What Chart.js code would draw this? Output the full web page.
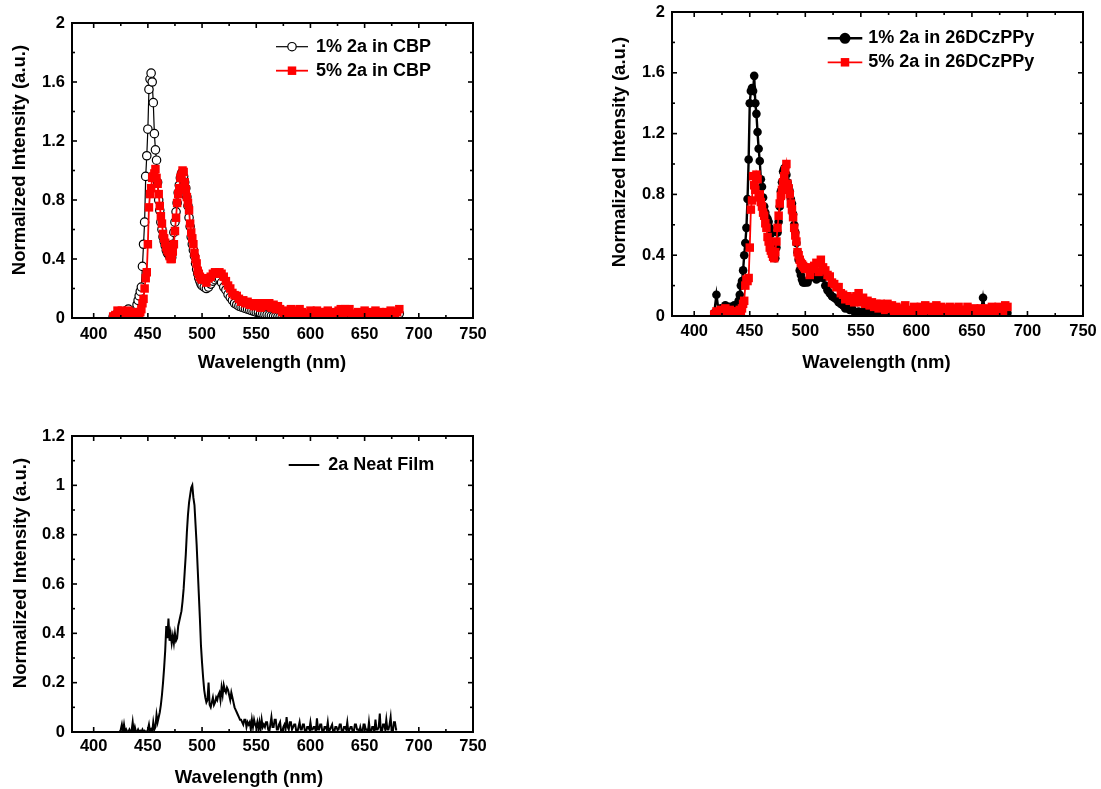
<!DOCTYPE html>
<html>
<head>
<meta charset="utf-8">
<script src="https://cdn.jsdelivr.net/npm/chart.js@4.4.1/dist/chart.umd.min.js"></script>
<style>
  html, body { margin: 0; padding: 0; background: #fff; }
  body { width: 1101px; height: 789px; position: relative; overflow: hidden; }
  canvas { position: absolute; }
</style>
</head>
<body>
<canvas id="cbp" width="500" height="390" style="left:0;top:0"></canvas>
<canvas id="dcz" width="501" height="390" style="left:600px;top:0"></canvas>
<canvas id="neat" width="500" height="389" style="left:0;top:400px"></canvas>
<script>
// Emission wavelengths (nm) for the doped-film spectra
const WAVELENGTH = [418,420,422,424,426,428,430,432,434,436,438,440,
  441,442,443,444,445,446,447,448,449,450,
  451,452,453,454,455,456,457,458,459,460,
  461,462,463,464,465,466,467,468,469,470,
  471,472,473,474,475,476,477,478,479,480,
  481,482,483,484,485,486,487,488,489,490,
  491,492,493,494,495,496,497,498,499,500,
  502,504,506,508,510,512,514,516,518,520,
  522,524,526,528,530,532,534,536,538,540,
  542,544,546,548,550,552,554,556,558,560,
  562,564,566,568,570,572,574,576,578,580,
  582,584,586,588,590,592,594,596,598,600,
  602,604,606,608,610,612,614,616,618,620,
  622,624,626,628,630,632,634,636,638,640,
  642,644,646,648,650,652,654,656,658,660,
  662,664,666,668,670,672,674,676,678,680,
  682];

// 1% 2a in CBP
const CBP_1 = [0.01,0.02,0.03,0.04,0.03,0.04,0.05,0.06,0.04,0.03,0.05,0.09,
  0.12,0.15,0.18,0.21,0.35,0.50,0.65,0.96,1.10,1.28,
  1.55,1.62,1.66,1.60,1.46,1.25,1.14,1.07,0.92,0.80,
  0.73,0.65,0.60,0.55,0.52,0.49,0.46,0.44,0.43,0.42,
  0.41,0.41,0.50,0.58,0.65,0.72,0.78,0.85,0.90,0.95,
  0.98,0.99,0.96,0.92,0.88,0.82,0.76,0.68,0.62,0.55,
  0.50,0.46,0.42,0.37,0.33,0.30,0.27,0.25,0.23,0.22,
  0.21,0.20,0.21,0.23,0.25,0.26,0.27,0.27,0.24,0.21,
  0.19,0.16,0.14,0.12,0.10,0.09,0.08,0.075,0.07,0.065,
  0.06,0.055,0.05,0.045,0.04,0.038,0.034,0.03,0.026,0.022,
  0.018,0.015,0.012,0.01,0.008,0.006,0.005,0.004,0.006,0.003,
  0.008,0.005,0.004,0.007,0.003,0.006,0.004,0.008,0.005,0.003,
  0.006,0.004,0.009,0.005,0.003,0.007,0.004,0.006,0.008,0.004,
  0.005,0.003,0.007,0.01,0.006,0.004,0.008,0.005,0.003,0.006,
  0.004,0.007,0.005,0.003,0.006,0.009,0.004,0.006,0.003,0.007,
  0.005,0.008,0.004,0.006,0.01,0.005,0.007,0.012,0.009,0.015,
  0.03];

// 5% 2a in CBP
const CBP_5 = [0.01,0.02,0.05,0.03,0.05,0.02,0.04,0.05,0.02,0.04,0.03,0.01,
  0.03,0.01,0.04,0.06,0.10,0.13,0.20,0.27,0.31,0.50,
  0.75,0.84,0.88,0.95,0.96,0.98,1.01,0.95,0.91,0.84,
  0.76,0.69,0.64,0.57,0.54,0.51,0.48,0.46,0.45,0.42,
  0.40,0.40,0.45,0.50,0.59,0.68,0.78,0.84,0.88,0.95,
  0.97,1.00,0.99,0.92,0.87,0.82,0.78,0.73,0.64,0.58,
  0.54,0.50,0.44,0.40,0.37,0.32,0.30,0.28,0.27,0.26,
  0.26,0.24,0.27,0.28,0.30,0.31,0.30,0.31,0.30,0.28,
  0.25,0.22,0.20,0.17,0.155,0.15,0.13,0.11,0.12,0.10,
  0.11,0.09,0.10,0.08,0.10,0.09,0.07,0.10,0.08,0.09,
  0.10,0.07,0.09,0.06,0.08,0.06,0.04,0.02,0.05,0.03,
  0.06,0.02,0.05,0.03,0.06,0.04,0.02,0.01,0.03,0.05,
  0.01,0.03,0.05,0.02,0.04,0.01,0.04,0.05,0.02,0.04,
  0.01,0.03,0.05,0.06,0.03,0.06,0.04,0.06,0.03,0.02,
  0.01,0.04,0.02,0.03,0.05,0.02,0.04,0.01,0.03,0.05,
  0.01,0.04,0.02,0.01,0.04,0.02,0.05,0.01,0.03,0.04,
  0.06];

// 1% 2a in 26DCzPPy
const DCZ_1 = [0.02,0.14,0.03,0.05,0.04,0.07,0.03,0.06,0.02,0.07,0.04,0.10,
  0.14,0.20,0.23,0.30,0.40,0.48,0.58,0.77,1.03,1.40,
  1.48,1.50,1.48,1.58,1.40,1.33,1.21,1.10,1.02,0.90,
  0.85,0.78,0.72,0.68,0.65,0.64,0.62,0.58,0.54,0.47,
  0.41,0.39,0.38,0.45,0.55,0.62,0.72,0.82,0.88,0.95,
  0.97,0.98,0.93,0.88,0.85,0.82,0.77,0.74,0.67,0.60,
  0.55,0.48,0.42,0.37,0.30,0.27,0.24,0.22,0.22,0.22,
  0.22,0.25,0.27,0.28,0.24,0.25,0.27,0.25,0.20,0.17,
  0.15,0.13,0.12,0.11,0.09,0.08,0.07,0.05,0.06,0.04,
  0.05,0.03,0.02,0.03,0.02,0.03,0.01,0.02,0.03,0.01,
  0.02,0.01,0.03,0.02,0.01,0.02,0.03,0.01,0.02,0.01,
  0.02,0.03,0.01,0.02,0.01,0.03,0.02,0.01,0.02,0.03,
  0.01,0.02,0.03,0.01,0.02,0.01,0.03,0.02,0.01,0.02,
  0.03,0.01,0.02,0.01,0.03,0.02,0.01,0.02,0.03,0.01,
  0.02,0.01,0.03,0.02,0.01,0.02,0.03,0.01,0.02,0.12,
  0.02,0.01,0.03,0.02,0.03,0.05,0.02,0.01,0.02,0.03,
  0.02];

// 5% 2a in 26DCzPPy
const DCZ_5 = [0.01,0.03,0.02,0.04,0.03,0.05,0.02,0.04,0.03,0.02,0.03,0.02,
  0.04,0.03,0.05,0.08,0.10,0.20,0.24,0.23,0.25,0.45,
  0.70,0.76,0.92,0.86,0.83,0.93,0.90,0.78,0.80,0.75,
  0.72,0.68,0.66,0.61,0.58,0.52,0.49,0.45,0.43,0.41,
  0.39,0.38,0.42,0.49,0.58,0.66,0.74,0.79,0.83,0.88,
  0.92,0.96,1.00,0.87,0.84,0.80,0.74,0.70,0.65,0.58,
  0.53,0.49,0.42,0.40,0.37,0.35,0.34,0.33,0.32,0.31,
  0.32,0.27,0.31,0.33,0.35,0.29,0.37,0.32,0.30,0.27,
  0.26,0.22,0.21,0.19,0.19,0.15,0.14,0.11,0.13,0.10,
  0.12,0.09,0.13,0.15,0.09,0.12,0.08,0.10,0.07,0.09,
  0.06,0.08,0.05,0.08,0.06,0.04,0.08,0.05,0.07,0.03,
  0.06,0.02,0.05,0.02,0.07,0.04,0.02,0.03,0.06,0.02,
  0.03,0.06,0.02,0.07,0.04,0.06,0.02,0.05,0.07,0.02,
  0.06,0.02,0.05,0.03,0.06,0.02,0.05,0.02,0.06,0.04,
  0.02,0.04,0.06,0.02,0.04,0.05,0.02,0.04,0.05,0.02,
  0.05,0.02,0.04,0.06,0.02,0.04,0.06,0.02,0.02,0.07,
  0.06];

// Neat-film wavelengths (nm), measured every 1 nm
const NEAT_WAVELENGTH = [424,425,426,427,428,429,
  430,431,432,433,434,435,436,437,438,439,
  440,441,442,443,444,445,446,447,448,449,
  450,451,452,453,454,455,456,457,458,459,
  460,461,462,463,464,465,466,467,468,469,
  470,471,472,473,474,475,476,477,478,479,
  480,481,482,483,484,485,486,487,488,489,
  490,491,492,493,494,495,496,497,498,499,
  500,501,502,503,504,505,506,507,508,509,
  510,511,512,513,514,515,516,517,518,519,
  520,521,522,523,524,525,526,527,528,529,
  530,531,532,533,534,535,536,537,538,539,
  540,541,542,543,544,545,546,547,548,549,
  550,551,552,553,554,555,556,557,558,559,
  560,561,562,563,564,565,566,567,568,569,
  570,571,572,573,574,575,576,577,578,579,
  580,581,582,583,584,585,586,587,588,589,
  590,591,592,593,594,595,596,597,598,599,
  600,601,602,603,604,605,606,607,608,609,
  610,611,612,613,614,615,616,617,618,619,
  620,621,622,623,624,625,626,627,628,629,
  630,631,632,633,634,635,636,637,638,639,
  640,641,642,643,644,645,646,647,648,649,
  650,651,652,653,654,655,656,657,658,659,
  660,661,662,663,664,665,666,667,668,669,
  670,671,672,673,674,675,676,677,678,679,
  680];

// 2a neat film
const NEAT = [0.0,0.01,0.03,0.0,0.03,0.0,
  0.01,0.0,0.0,0.01,0.0,0.005,0.04,0.0,0.02,0.0,
  0.0,0.01,0.0,0.005,0.0,0.01,0.0,0.005,0.0,0.0,
  0.01,0.03,0.0,0.01,0.0,0.04,0.01,0.02,0.07,0.04,
  0.06,0.08,0.11,0.15,0.20,0.26,0.33,0.43,0.38,0.46,
  0.37,0.40,0.36,0.39,0.36,0.40,0.37,0.38,0.43,0.45,
  0.47,0.49,0.53,0.58,0.65,0.72,0.81,0.88,0.93,0.96,
  0.99,1.00,0.95,0.92,0.84,0.76,0.66,0.56,0.46,0.35,
  0.28,0.22,0.17,0.14,0.12,0.13,0.20,0.11,0.10,0.12,
  0.14,0.11,0.12,0.14,0.13,0.15,0.16,0.13,0.18,0.15,
  0.19,0.17,0.16,0.18,0.17,0.15,0.13,0.16,0.14,0.12,
  0.10,0.09,0.08,0.07,0.06,0.05,0.05,0.04,0.03,0.05,
  0.05,0.02,0.04,0.03,0.04,0.01,0.05,0.02,0.05,0.03,
  0.02,0.04,0.01,0.04,0.01,0.05,0.02,0.03,0.02,0.04,
  0.04,0.01,0.0,0.03,0.06,0.02,0.02,0.05,0.05,0.01,
  0.01,0.03,0.04,0.0,0.0,0.02,0.03,0.01,0.06,0.02,
  0.01,0.04,0.04,0.01,0.02,0.03,0.03,0.0,0.0,0.02,
  0.04,0.01,0.01,0.03,0.03,0.0,0.0,0.02,0.02,0.01,
  0.04,0.01,0.01,0.02,0.02,0.0,0.055,0.01,0.01,0.03,
  0.03,0.0,0.0,0.02,0.02,0.01,0.04,0.0,0.01,0.02,
  0.03,0.0,0.0,0.02,0.02,0.01,0.01,0.03,0.03,0.0,
  0.0,0.02,0.02,0.01,0.04,0.0,0.01,0.02,0.02,0.0,
  0.0,0.03,0.03,0.01,0.01,0.0,0.02,0.0,0.0,0.03,
  0.03,0.01,0.01,0.0,0.04,0.0,0.0,0.02,0.02,0.0,
  0.05,0.01,0.01,0.02,0.075,0.0,0.0,0.03,0.03,0.01,
  0.05,0.01,0.01,0.03,0.06,0.0,0.0,0.04,0.04,0.01,
  0.01];

// Axis ticks and their labels
const X_TICKS = [400, 450, 500, 550, 600, 650, 700, 750];
const X_TICK_LABELS = ['400', '450', '500', '550', '600', '650', '700', '750'];
const Y_TICKS_DOPED = [0, 0.4, 0.8, 1.2, 1.6, 2];
const Y_TICK_LABELS_DOPED = ['0', '0.4', '0.8', '1.2', '1.6', '2'];
const Y_TICKS_NEAT = [0, 0.2, 0.4, 0.6, 0.8, 1, 1.2];
const Y_TICK_LABELS_NEAT = ['0', '0.2', '0.4', '0.6', '0.8', '1', '1.2'];

const X_TITLE = 'Wavelength (nm)';
const Y_TITLE = 'Normalized Intensity (a.u.)';

const FONT = '"Liberation Sans", Arial, Helvetica, sans-serif';

function points(xs, values) {
  return xs.map((w, i) => ({ x: w, y: values[i] }));
}

function midpoints(arr) {
  const out = [];
  for (let i = 0; i < arr.length - 1; i++) out.push((arr[i] + arr[i + 1]) / 2);
  return out;
}

// Draws the boxed frame with inward major/minor ticks, tick labels,
// axis titles and an inset legend.
const framePlugin = {
  id: 'frame',
  afterDraw(chart, args, o) {
    const ctx = chart.ctx, a = chart.chartArea;
    const xs = chart.scales.x, ys = chart.scales.y;
    ctx.save();
    ctx.strokeStyle = '#000';
    ctx.fillStyle = '#000';

    const seg = (x1, y1, x2, y2) => { ctx.beginPath(); ctx.moveTo(x1, y1); ctx.lineTo(x2, y2); ctx.stroke(); };

    // ticks
    ctx.lineWidth = 1.6;
    const xMinor = midpoints(o.xTicks).filter(v => v > xs.min && v < xs.max);
    o.xTicks.forEach(v => { const p = xs.getPixelForValue(v); seg(p, a.bottom, p, a.bottom - 5); seg(p, a.top, p, a.top + 5); });
    xMinor.forEach(v => { const p = xs.getPixelForValue(v); seg(p, a.bottom, p, a.bottom - 3); seg(p, a.top, p, a.top + 3); });
    const yMinor = midpoints(o.yTicks);
    o.yTicks.forEach(v => { const p = ys.getPixelForValue(v); seg(a.left, p, a.left + 5, p); seg(a.right, p, a.right - 5, p); });
    yMinor.forEach(v => { const p = ys.getPixelForValue(v); seg(a.left, p, a.left + 3, p); seg(a.right, p, a.right - 3, p); });

    // frame
    ctx.lineWidth = 2;
    ctx.strokeRect(a.left, a.top, a.right - a.left, a.bottom - a.top);

    // tick labels
    ctx.font = 'bold 16.5px ' + FONT;
    ctx.textBaseline = 'middle';
    ctx.textAlign = 'center';
    o.xTicks.forEach((v, i) => ctx.fillText(o.xLabels[i], xs.getPixelForValue(v), a.bottom + o.xLabelGap));
    ctx.textAlign = 'right';
    o.yTicks.forEach((v, i) => ctx.fillText(o.yLabels[i], a.left - 7, ys.getPixelForValue(v)));

    // axis titles
    ctx.font = 'bold 18.5px ' + FONT;
    ctx.textAlign = 'center';
    ctx.fillText(X_TITLE, o.xTitle[0], o.xTitle[1]);
    ctx.save();
    ctx.translate(o.yTitle[0], o.yTitle[1]);
    ctx.rotate(-Math.PI / 2);
    ctx.fillText(Y_TITLE, 0, 0);
    ctx.restore();

    // legend
    ctx.font = 'bold 18px ' + FONT;
    ctx.textAlign = 'left';
    o.legend.rows.forEach((y, i) => {
      const ds = chart.data.datasets[o.legend.order[i]];
      ctx.strokeStyle = ds.borderColor;
      ctx.lineWidth = ds.borderWidth;
      seg(o.legend.x0, y, o.legend.x1, y);
      const cx = (o.legend.x0 + o.legend.x1) / 2;
      if (ds.pointRadius > 0) {
        ctx.fillStyle = ds.pointBackgroundColor;
        ctx.strokeStyle = ds.pointBorderColor;
        ctx.lineWidth = ds.pointBorderWidth || 0;
        if (ds.pointStyle === 'rect') {
          const s = ds.pointRadius * Math.SQRT1_2;
          ctx.fillRect(cx - s, y - s, 2 * s, 2 * s);
        } else {
          ctx.beginPath();
          ctx.arc(cx, y, ds.pointRadius, 0, Math.PI * 2);
          ctx.fill();
          if (ctx.lineWidth > 0) ctx.stroke();
        }
      }
      ctx.fillStyle = '#000';
      ctx.fillText(ds.label, o.legend.textX, y);
    });
    ctx.restore();
  }
};

function makeChart(id, datasets, yMax, pad, frame) {
  return new Chart(document.getElementById(id), {
    type: 'line',
    data: { datasets },
    plugins: [framePlugin],
    options: {
      responsive: false,
      animation: false,
      devicePixelRatio: 1,
      events: [],
      layout: { padding: pad },
      plugins: { legend: { display: false }, tooltip: { enabled: false }, frame },
      scales: {
        x: { type: 'linear', min: 380, max: 750, display: false },
        y: { type: 'linear', min: 0, max: yMax, display: false }
      }
    }
  });
}

const openCircle = (label, data) => ({
  label, data: points(WAVELENGTH, data), borderColor: '#000', borderWidth: 1.2, tension: 0,
  pointStyle: 'circle', pointRadius: 4.2, pointBackgroundColor: '#fff',
  pointBorderColor: '#000', pointBorderWidth: 1.2, order: 2
});
const filledCircle = (label, data) => ({
  label, data: points(WAVELENGTH, data), borderColor: '#000', borderWidth: 2.4, tension: 0,
  pointStyle: 'circle', pointRadius: 4.3, pointBackgroundColor: '#000',
  pointBorderColor: '#000', pointBorderWidth: 0, order: 2
});
const redSquare = (label, data) => ({
  label, data: points(WAVELENGTH, data), borderColor: '#ff0000', borderWidth: 1.8, tension: 0,
  pointStyle: 'rect', pointRadius: 6, pointBackgroundColor: '#ff0000',
  pointBorderColor: '#ff0000', pointBorderWidth: 0, order: 1
});

makeChart('cbp',
  [openCircle('1% 2a in CBP', CBP_1), redSquare('5% 2a in CBP', CBP_5)],
  2, { left: 72, top: 23, right: 27, bottom: 72 },
  { xTicks: X_TICKS, xLabels: X_TICK_LABELS, yTicks: Y_TICKS_DOPED, yLabels: Y_TICK_LABELS_DOPED,
    xLabelGap: 16, xTitle: [272, 363], yTitle: [20, 160],
    legend: { x0: 276, x1: 308, textX: 316, rows: [46.7, 70.7], order: [0, 1] } });

makeChart('dcz',
  [filledCircle('1% 2a in 26DCzPPy', DCZ_1), redSquare('5% 2a in 26DCzPPy', DCZ_5)],
  2, { left: 72, top: 12, right: 18, bottom: 74 },
  { xTicks: X_TICKS, xLabels: X_TICK_LABELS, yTicks: Y_TICKS_DOPED, yLabels: Y_TICK_LABELS_DOPED,
    xLabelGap: 15.7, xTitle: [276.5, 362.5], yTitle: [20, 152],
    legend: { x0: 227.7, x1: 262.3, textX: 268.3, rows: [38.3, 62.3], order: [0, 1] } });

makeChart('neat',
  [{ label: '2a Neat Film', data: points(NEAT_WAVELENGTH, NEAT), borderColor: '#000', borderWidth: 2,
     tension: 0, pointRadius: 0 }],
  1.2, { left: 72, top: 36, right: 27, bottom: 57 },
  { xTicks: X_TICKS, xLabels: X_TICK_LABELS, yTicks: Y_TICKS_NEAT, yLabels: Y_TICK_LABELS_NEAT,
    xLabelGap: 14, xTitle: [249, 378.3], yTitle: [21, 173],
    legend: { x0: 288.7, x1: 319.3, textX: 328.3, rows: [65], order: [0] } });
</script>
</body>
</html>
